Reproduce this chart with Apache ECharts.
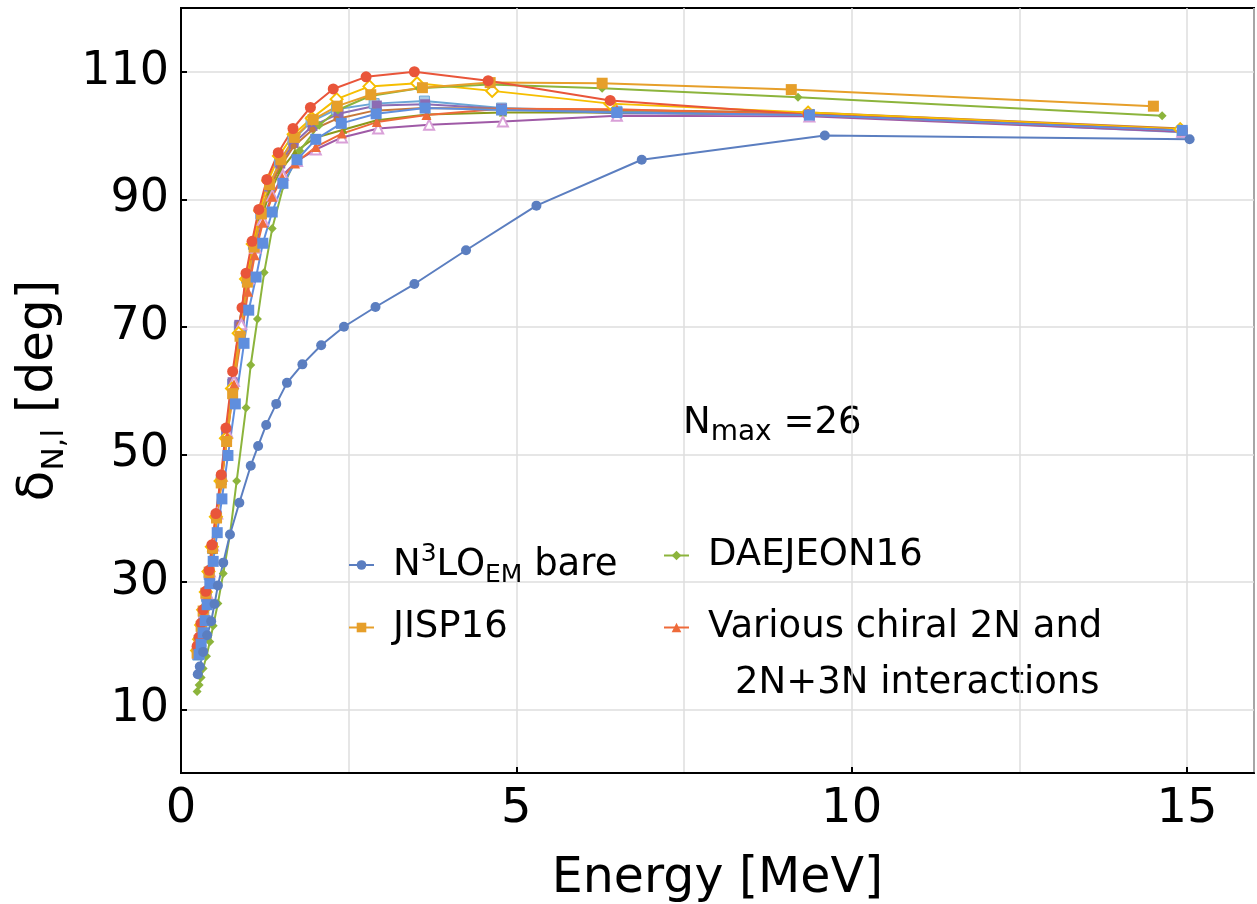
<!DOCTYPE html>
<html>
<head>
<meta charset="utf-8">
<title>Phase shift vs energy</title>
<script src="https://cdn.jsdelivr.net/npm/echarts@6/dist/echarts.min.js"></script>
<style>
  html, body { margin: 0; padding: 0; background: #fff; }
  #chart { width: 1257px; height: 904px; }
</style>
</head>
<body>
<div id="chart"></div>
<script>
// tick labels
var xTicks = [0, 5, 10, 15]
var yTicks = [10, 30, 50, 70, 90, 110]

// N3LO_EM bare
var n3loE = [0.25, 0.28, 0.33, 0.39, 0.45, 0.50, 0.55, 0.63, 0.73, 0.87, 1.04, 1.15, 1.27, 1.42, 1.58, 1.81, 2.09, 2.43, 2.90, 3.48, 4.25, 5.30, 6.87, 9.60, 15.04]
var n3loD = [15.5, 16.7, 19.0, 21.6, 23.8, 26.5, 29.4, 33.0, 37.4, 42.4, 48.2, 51.3, 54.6, 57.9, 61.2, 64.1, 67.1, 70.0, 73.1, 76.7, 82.0, 89.0, 96.2, 100.0, 99.4]

// JISP16
var jispE = [0.24, 0.27, 0.30, 0.33, 0.37, 0.42, 0.47, 0.53, 0.60, 0.68, 0.77, 0.88, 0.99, 1.09, 1.20, 1.32, 1.49, 1.69, 1.97, 2.33, 2.83, 3.60, 4.61, 6.28, 9.10, 14.50]
var jispD = [18.8, 20.8, 23.0, 25.4, 28.2, 31.5, 35.3, 40.0, 45.5, 52.0, 59.5, 68.5, 77.0, 82.5, 87.7, 92.3, 96.2, 99.7, 102.5, 104.6, 106.4, 107.5, 108.3, 108.2, 107.2, 104.6]

// DAEJEON16
var daeE = [0.24, 0.27, 0.30, 0.33, 0.38, 0.43, 0.48, 0.55, 0.63, 0.73, 0.83, 0.97, 1.04, 1.14, 1.24, 1.36, 1.53, 1.77, 2.06, 2.34, 2.82, 3.55, 4.60, 6.28, 9.20, 14.63]
var daeD = [12.8, 13.8, 15.0, 16.4, 18.3, 20.6, 23.1, 26.6, 31.3, 37.4, 45.8, 57.3, 64.0, 71.2, 78.5, 85.4, 92.2, 97.6, 101.6, 104.0, 106.2, 107.4, 108.0, 107.4, 106.0, 103.1]

// chiral 2N / 2N+3N interactions
var chTriE = [0.26, 0.29, 0.32, 0.35, 0.39, 0.43, 0.48, 0.54, 0.61, 0.69, 0.79, 0.90, 1.00, 1.10, 1.22, 1.36, 1.51, 1.70, 2.01, 2.40, 2.92, 3.66, 4.78, 6.50, 9.37, 14.93]
var chTriD = [18.8, 20.6, 22.6, 24.8, 27.8, 31.2, 35.2, 40.2, 46.0, 52.8, 61.0, 68.5, 75.5, 81.2, 86.3, 90.4, 93.4, 95.6, 98.2, 100.3, 102.1, 103.2, 104.2, 104.1, 103.2, 100.8]

var chCircE = [0.24, 0.27, 0.30, 0.33, 0.37, 0.42, 0.46, 0.52, 0.60, 0.67, 0.77, 0.91, 0.97, 1.06, 1.16, 1.28, 1.45, 1.67, 1.93, 2.27, 2.76, 3.48, 4.58, 6.40, 9.35, 14.93]
var chCircD = [19.9, 21.3, 23.5, 25.6, 28.5, 31.8, 35.8, 40.7, 46.8, 54.1, 63.0, 73.0, 78.4, 83.4, 88.4, 93.1, 97.3, 101.1, 104.4, 107.3, 109.2, 110.0, 108.6, 105.5, 103.3, 100.8]

var chSqE = [0.27, 0.30, 0.33, 0.36, 0.39, 0.43, 0.48, 0.54, 0.61, 0.70, 0.81, 0.94, 1.01, 1.12, 1.22, 1.36, 1.52, 1.73, 2.01, 2.39, 2.91, 3.64, 4.78, 6.50, 9.37, 14.93]
var chSqD = [18.6, 20.2, 22.0, 23.9, 26.4, 29.7, 33.2, 37.7, 43.0, 49.8, 57.9, 67.4, 72.6, 77.8, 83.1, 88.0, 92.5, 96.2, 99.4, 101.9, 103.4, 104.3, 104.0, 103.6, 103.2, 100.8]

var chYelE = [0.24, 0.27, 0.30, 0.33, 0.37, 0.41, 0.46, 0.52, 0.59, 0.67, 0.76, 0.86, 0.97, 1.07, 1.18, 1.30, 1.46, 1.68, 1.95, 2.32, 2.81, 3.52, 4.64, 6.40, 9.35, 14.90]
var chYelD = [19.2, 21.0, 23.2, 25.6, 28.4, 31.6, 35.5, 40.2, 45.8, 52.5, 60.3, 69.0, 77.5, 83.0, 88.2, 92.9, 96.8, 100.2, 102.7, 105.7, 107.7, 108.2, 107.0, 105.0, 103.6, 101.0]

var chLbE = [0.25, 0.28, 0.31, 0.34, 0.38, 0.42, 0.47, 0.53, 0.60, 0.68, 0.77, 0.87, 0.98, 1.08, 1.19, 1.32, 1.47, 1.67, 1.94, 2.32, 2.88, 3.63, 4.78, 6.50, 9.37, 14.93]
var chLbD = [18.5, 20.4, 22.5, 24.8, 27.7, 31.1, 35.2, 40.2, 46.0, 52.9, 61.0, 70.0, 77.6, 82.9, 87.7, 92.1, 95.9, 99.3, 102.2, 104.1, 105.0, 105.4, 104.3, 103.8, 103.3, 100.5]

var chPsE = [0.25, 0.28, 0.31, 0.34, 0.38, 0.42, 0.47, 0.53, 0.60, 0.68, 0.77, 0.87, 0.98, 1.08, 1.19, 1.32, 1.48, 1.68, 1.96, 2.35, 2.92, 3.64, 4.78, 6.50, 9.37, 14.93]
var chPsD = [18.6, 20.5, 22.6, 24.9, 27.9, 31.3, 35.4, 40.4, 46.3, 53.2, 61.3, 70.3, 77.8, 83.0, 87.8, 92.0, 95.6, 98.8, 101.5, 103.4, 104.7, 104.9, 104.2, 103.5, 103.3, 100.7]

var chBrE = [0.25, 0.28, 0.31, 0.34, 0.38, 0.42, 0.47, 0.53, 0.60, 0.68, 0.77, 0.87, 0.98, 1.08, 1.19, 1.32, 1.48, 1.68, 1.96, 2.32, 2.88, 3.62, 4.76, 6.50, 9.37, 14.93]
var chBrD = [18.7, 20.6, 22.7, 25.0, 28.0, 31.4, 35.5, 40.5, 46.4, 53.3, 61.4, 70.4, 77.9, 83.0, 87.6, 91.6, 95.1, 98.3, 100.9, 102.6, 103.9, 104.3, 104.2, 104.0, 103.6, 101.1]

var chOlE = [0.25, 0.28, 0.31, 0.34, 0.38, 0.42, 0.47, 0.53, 0.60, 0.68, 0.77, 0.88, 0.99, 1.09, 1.20, 1.33, 1.49, 1.70, 1.99, 2.42, 2.92, 3.67, 4.80, 6.50, 9.37, 14.93]
var chOlD = [18.4, 20.3, 22.4, 24.7, 27.6, 31.0, 35.0, 40.0, 45.8, 52.6, 60.6, 69.8, 77.3, 82.6, 87.2, 91.2, 94.6, 97.4, 99.6, 100.9, 102.4, 103.3, 103.6, 103.6, 103.3, 100.9]

var chPtE = [0.26, 0.29, 0.32, 0.35, 0.39, 0.43, 0.48, 0.54, 0.61, 0.69, 0.79, 0.90, 1.01, 1.11, 1.22, 1.36, 1.52, 1.73, 2.01, 2.40, 2.94, 3.70, 4.80, 6.50, 9.37, 14.93]
var chPtD = [18.9, 20.8, 22.9, 25.2, 28.2, 31.6, 35.7, 40.7, 46.6, 53.4, 61.5, 70.4, 77.6, 82.4, 86.8, 90.6, 93.8, 96.0, 97.8, 99.7, 101.1, 101.7, 102.2, 103.1, 103.0, 100.6]

var FONT = 'DejaVu Sans'

function zip (e, d) {
  return e.map(function (v, i) { return [v, d[i]] })
}

function line (name, e, d, color, symbol, size, opts) {
  opts = opts || {}
  return {
    name: name,
    type: 'line',
    data: zip(e, d),
    symbol: symbol,
    symbolSize: size,
    showSymbol: true,
    lineStyle: { color: opts.lineColor || color, width: 2 },
    itemStyle: {
      color: color,
      borderColor: opts.border || color,
      borderWidth: opts.borderWidth || 0
    },
    emphasis: { disabled: true },
    animation: false
  }
}

var legendRich = {
  m: { fontSize: 37, lineHeight: 46, fontFamily: FONT, color: '#000' },
  sup: { fontSize: 25, lineHeight: 30, verticalAlign: 'top', fontFamily: FONT, color: '#000' },
  sub: { fontSize: 25, lineHeight: 26, verticalAlign: 'bottom', fontFamily: FONT, color: '#000' }
}
var nmaxRich = {
  m: { fontSize: 37, lineHeight: 46, fontFamily: FONT, color: '#000' },
  sub: { fontSize: 28, lineHeight: 28, verticalAlign: 'bottom', fontFamily: FONT, color: '#000' }
}
var legendText = {
  'n3lo': '{m|N}{sup|3}{m|LO}{sub|EM}{m| bare}',
  'jisp': '{m|JISP16}',
  'daejeon': '{m|DAEJEON16}',
  'chiral': '{m|Various chiral 2N and}'
}

function legend (name, left, top) {
  return {
    data: [name],
    left: left,
    top: top,
    padding: 0,
    itemWidth: 25,
    itemHeight: 12,
    selectedMode: false,
    formatter: function (n) { return legendText[n] },
    textStyle: { fontSize: 37, fontFamily: FONT, color: '#000', padding: [0, 0, 0, 14], rich: legendRich }
  }
}

var chart = echarts.init(document.getElementById('chart'))
var option = {
  backgroundColor: '#fff',
  textStyle: { fontFamily: FONT },
  grid: {
    left: 181, right: 3, top: 8, bottom: 131,
    containLabel: false, outerBoundsMode: 'none',
    show: true, borderColor: '#000', borderWidth: 2, backgroundColor: 'transparent'
  },
  legend: [
    legend('n3lo', 348, 542),
    legend('jisp', 348, 609),
    legend('daejeon', 663, 537),
    legend('chiral', 663, 609)
  ],
  graphic: [
    {
      type: 'text', left: 735, top: 665,
      style: { text: '2N+3N interactions', font: '37px "DejaVu Sans"', fill: '#000' }
    },
    {
      type: 'text', left: 683, top: 405,
      style: {
        text: '{m|N}{sub|max}{m| =26}',
        rich: nmaxRich
      }
    }
  ],
  xAxis: [
    {
      type: 'value', min: 0, max: 16, interval: 5,
      name: 'Energy [MeV]', nameLocation: 'middle', nameGap: 82,
      nameTextStyle: { fontSize: 49, color: '#000', fontFamily: FONT },
      axisLine: { show: true, lineStyle: { color: '#000', width: 2 } },
      axisTick: { show: true, inside: true, length: 6, customValues: xTicks, lineStyle: { color: '#000', width: 2 } },
      axisLabel: { customValues: xTicks, fontSize: 48, color: '#000', margin: 13, fontFamily: FONT },
      splitLine: { show: false }
    },
    {
      type: 'value', min: 0, max: 16, interval: 2.5, position: 'bottom',
      axisLine: { show: false }, axisTick: { show: false }, axisLabel: { show: false },
      splitLine: { show: true, lineStyle: { color: '#dedede', width: 1.5 } }
    }
  ],
  yAxis: {
    type: 'value', min: 0, max: 120, interval: 10,
    name: '{d|δ}{s|N,l}{d| [deg]}', nameLocation: 'middle', nameGap: 92,
    nameTextStyle: {
      color: '#000',
      rich: {
        d: { fontSize: 50, lineHeight: 62, fontFamily: FONT, color: '#000' },
        s: { fontSize: 31, lineHeight: 36, verticalAlign: 'bottom', fontFamily: FONT, color: '#000' }
      }
    },
    axisLine: { show: true, lineStyle: { color: '#000', width: 2 } },
    axisTick: { show: true, inside: true, length: 6, customValues: yTicks, lineStyle: { color: '#000', width: 2 } },
    axisLabel: { customValues: yTicks, fontSize: 46, color: '#000', margin: 12, fontFamily: FONT },
    splitLine: { show: true, lineStyle: { color: '#dedede', width: 1.5 } }
  },
  series: [
    line('chiral-lb', chLbE, chLbD, '#a9cbe8', 'rect', 10, { lineColor: '#6aa6d6', border: '#6aa6d6', borderWidth: 1 }),
    line('chiral-ps', chPsE, chPsD, '#8c6cb4', 'rect', 10),
    line('chiral-br', chBrE, chBrD, '#c7773a', 'circle', 6),
    line('chiral-ol', chOlE, chOlD, '#8b991a', 'triangle', 8),
    line('chiral-pt', chPtE, chPtD, '#d9a0d8', 'emptyTriangle', 10, { lineColor: '#9f5aa6' }),
    line('chiral-yel', chYelE, chYelD, '#f6be00', 'emptyDiamond', 12),
    line('chiral', chTriE, chTriD, '#ee6a3a', 'triangle', 10),
    line('daejeon', daeE, daeD, '#8cb43c', 'diamond', 9),
    line('jisp', jispE, jispD, '#e69f2a', 'rect', 11),
    line('chiral-circ', chCircE, chCircD, '#e9553a', 'circle', 11),
    line('chiral-sq', chSqE, chSqD, '#5f8ede', 'rect', 11),
    line('n3lo', n3loE, n3loD, '#5b7ec0', 'circle', 10)
  ]
}
chart.setOption(option)
</script>
</body>
</html>
